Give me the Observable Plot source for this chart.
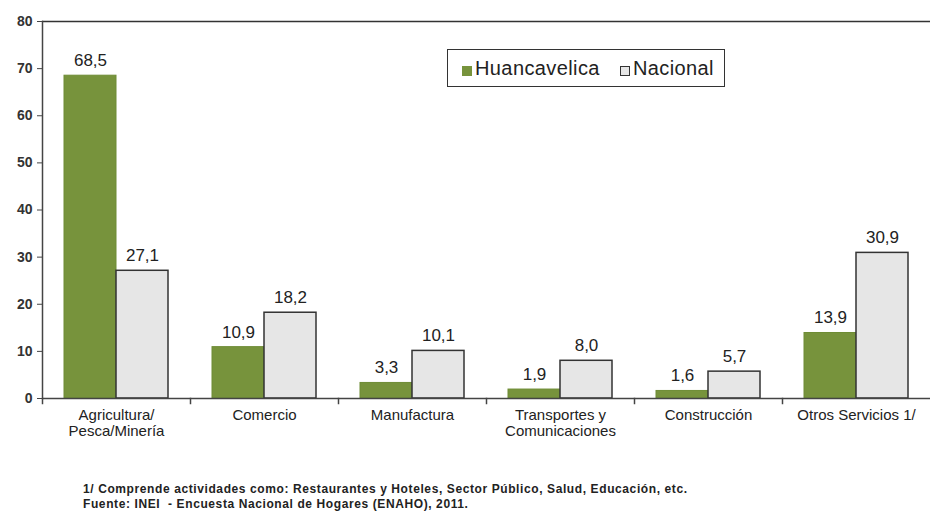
<!DOCTYPE html>
<html><head><meta charset="utf-8">
<script src="https://cdn.jsdelivr.net/npm/d3@7"></script>
<script src="https://cdn.jsdelivr.net/npm/@observablehq/plot@0.6"></script>
<style>
body{margin:0;background:#fff;font-family:"Liberation Sans",Arial,sans-serif}
#wrap{position:relative;width:933px;height:511px;overflow:hidden}
#legend{position:absolute;left:447px;top:49px;width:276px;height:36px;border:1.5px solid #333;background:#fff;display:flex;align-items:center;font-size:20px;color:#222;letter-spacing:0.4px}
#legend .sw{display:inline-block;width:10px;height:10px;margin-right:3px;position:relative;top:3px}
#legend .item{display:flex;align-items:center}
#foot{position:absolute;left:83px;top:482px;font-size:12px;font-weight:bold;line-height:15px;color:#222;white-space:pre;letter-spacing:0.6px}
</style></head>
<body><div id="wrap"><div id="chart"></div>
<div id="legend"><span class="item" style="margin-left:14px"><span class="sw" style="background:#77933c"></span>Huancavelica</span><span class="item" style="margin-left:20px"><span class="sw" style="background:#e6e6e6;border:1.5px solid #333;width:8px;height:8px"></span>Nacional</span></div>
<div id="foot">1/ Comprende actividades como: Restaurantes y Hoteles, Sector Público, Salud, Educación, etc.
Fuente: INEI  - Encuesta Nacional de Hogares (ENAHO), 2011.</div>
</div>
<script>
const categories = ["Agricultura/\nPesca/Minería", "Comercio", "Manufactura", "Transportes y\nComunicaciones", "Construcción", "Otros Servicios 1/"];
const seriesNames = ["Huancavelica", "Nacional"];
const huancavelica = [68.5, 10.9, 3.3, 1.9, 1.6, 13.9];
const nacional = [27.1, 18.2, 10.1, 8.0, 5.7, 30.9];
const yTicks = [0, 10, 20, 30, 40, 50, 60, 70, 80];

const data = categories.flatMap((c, i) => [
  {cat: c, series: seriesNames[0], value: huancavelica[i]},
  {cat: c, series: seriesNames[1], value: nacional[i]}
]);
const fmt = v => v.toFixed(1).replace(".", ",");

const chart = Plot.plot({
  width: 933, height: 445,
  marginLeft: 42, marginRight: 3, marginTop: 21, marginBottom: 47,
  style: {fontFamily: "Liberation Sans, Arial, sans-serif", color: "#222", background: "#fff"},
  fx: {domain: categories, padding: 0, label: null},
  x: {domain: seriesNames, paddingInner: 0, paddingOuter: 0.423, axis: null},
  y: {domain: [0, 80], label: null},
  marks: [
    Plot.ruleY([80], {stroke: "#333", strokeWidth: 1.5}),
    Plot.barY(data.filter(d => d.series === seriesNames[0]), {fx: "cat", x: "series", y: "value", fill: "#77933c", stroke: "#6e8c35", strokeWidth: 1}),
    Plot.barY(data.filter(d => d.series === seriesNames[1]), {fx: "cat", x: "series", y: "value", fill: "#e6e6e6", stroke: "#333", strokeWidth: 1.5}),
    Plot.text(data, {fx: "cat", x: "series", y: "value", text: d => fmt(d.value), dy: -15, fontSize: 17, fill: "#222"}),
    Plot.ruleY([0], {stroke: "#444", strokeWidth: 1.5}),
    Plot.frame({anchor: "left", insetTop: 377, insetBottom: -5, stroke: "#444", strokeWidth: 1.5}),
    Plot.frame({anchor: "left", fx: () => categories[0], stroke: "#444", strokeWidth: 1.5}),
    Plot.axisY({ticks: yTicks, tickSize: 5, tickPadding: 5, fontSize: 14, fontWeight: "bold", stroke: "#444", fill: "#333"}),
    Plot.axisFx({anchor: "bottom", tickSize: 0, tickPadding: 9, fontSize: 15, lineHeight: 1.13, label: null, fill: "#222"})
  ]
});
document.getElementById("chart").appendChild(chart);
</script>
</body></html>
